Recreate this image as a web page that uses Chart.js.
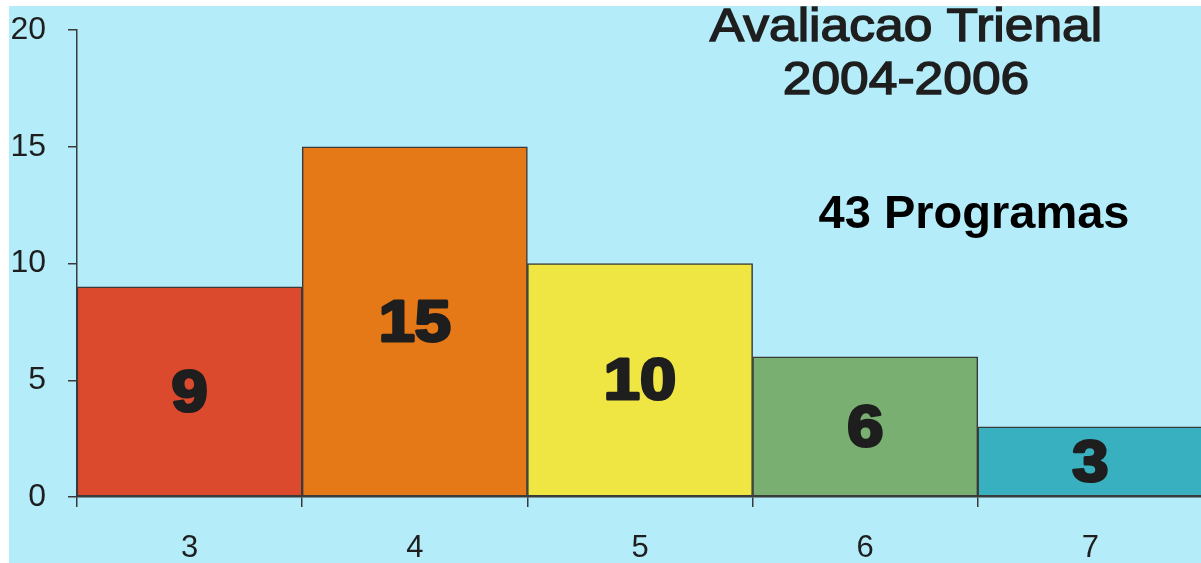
<!DOCTYPE html>
<html>
<head>
<meta charset="utf-8">
<script src="https://cdn.jsdelivr.net/npm/chart.js@4/dist/chart.umd.min.js"></script>
<style>
  html, body { margin: 0; padding: 0; background: #fff; overflow: hidden; width: 1201px; height: 563px; }
  #wrap { position: absolute; left: 9px; top: 6px; width: 1194px; height: 557px; background: #b5ecfa; }
</style>
</head>
<body>
<div id="wrap"><canvas id="grafico" width="1194" height="557"></canvas></div>
<script>
// notas da avaliacao e numero de programas em cada nota
const notas = ['3', '4', '5', '6', '7'];
const programas = [9, 15, 10, 6, 3];
const cores = ['#db4a2c', '#e57918', '#efe543', '#7aaf72', '#38b0c0'];
const titulo = ['Avaliacao Trienal', '2004-2006'];
const totalTexto = '43 Programas';

const corTexto = '#1e1e1e';
const fonteBase = '"Liberation Sans", Arial, sans-serif';

// numero grande no meio de cada barra
const rotulosBarras = {
  id: 'rotulosBarras',
  afterDatasetsDraw(chart) {
    const ctx = chart.ctx;
    const meta = chart.getDatasetMeta(0);
    ctx.save();
    ctx.font = 'bold 58px ' + fonteBase;
    ctx.fillStyle = corTexto;
    ctx.strokeStyle = corTexto;
    ctx.lineWidth = 3;
    ctx.lineJoin = 'round';
    ctx.textAlign = 'center';
    ctx.textBaseline = 'middle';
    meta.data.forEach((bar, i) => {
      const y = (bar.y + bar.base) / 2 + 3;
      ctx.save();
      ctx.translate(bar.x, y);
      ctx.scale(1.12, 1);
      ctx.strokeText(String(programas[i]), 0, 0);
      ctx.fillText(String(programas[i]), 0, 0);
      ctx.restore();
    });
    ctx.restore();
  }
};

// titulo em duas linhas e total de programas
const textosExtras = {
  id: 'textosExtras',
  afterDraw(chart) {
    const ctx = chart.ctx;
    ctx.save();
    ctx.fillStyle = corTexto;
    ctx.strokeStyle = corTexto;
    ctx.textAlign = 'center';
    ctx.textBaseline = 'alphabetic';
    ctx.font = '46px ' + fonteBase;
    ctx.lineWidth = 1.4;
    [[titulo[0], 35], [titulo[1], 88]].forEach(([t, y]) => {
      ctx.save();
      ctx.translate(897, y);
      ctx.scale(1.12, 1);
      ctx.strokeText(t, 0, 0);
      ctx.fillText(t, 0, 0);
      ctx.restore();
    });
    ctx.fillStyle = '#000';
    ctx.font = 'bold 47px ' + fonteBase;
    ctx.fillText(totalTexto, 965, 222);
    ctx.restore();
  }
};

new Chart(document.getElementById('grafico'), {
  type: 'bar',
  data: {
    labels: notas,
    datasets: [{
      data: programas,
      backgroundColor: cores,
      borderColor: '#3a3a3a',
      borderWidth: 1.5,
      borderSkipped: false,
      categoryPercentage: 1,
      barPercentage: 1
    }]
  },
  options: {
    responsive: false,
    animation: false,
    layout: { padding: { top: 24, right: 0, left: 0, bottom: 0 } },
    plugins: {
      legend: { display: false },
      tooltip: { enabled: false }
    },
    scales: {
      x: {
        grid: { offset: true, drawOnChartArea: false, tickLength: 10, color: '#3a3a3a', lineWidth: 1.5 },
        border: { color: '#3a3a3a', width: 1.5 },
        ticks: { color: corTexto, font: { family: fonteBase, size: 31 }, padding: 23 },
        afterFit(s) { s.height = 66; s.paddingLeft = 0; s.paddingRight = 0; }
      },
      y: {
        min: 0,
        max: 20,
        grid: { drawOnChartArea: false, tickLength: 9, color: '#3a3a3a', lineWidth: 1.5 },
        border: { color: '#3a3a3a', width: 1.5 },
        ticks: { stepSize: 5, color: corTexto, font: { family: fonteBase, size: 32 }, padding: 22 },
        afterFit(s) { s.width = 68; s.paddingTop = 0; s.paddingBottom = 0; }
      }
    }
  },
  plugins: [rotulosBarras, textosExtras]
});
</script>
</body>
</html>
